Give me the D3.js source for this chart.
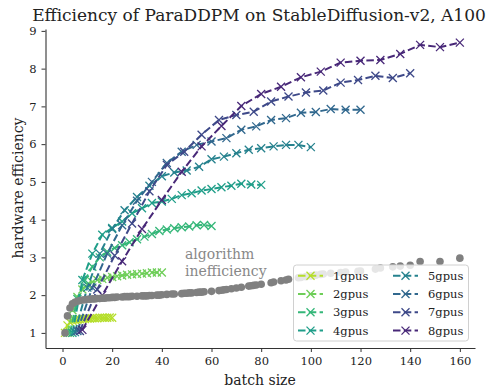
<!DOCTYPE html>
<html>
<head>
<meta charset="utf-8">
<script src="https://cdn.jsdelivr.net/npm/d3@7"></script>
<style>
  body { margin: 0; background: #fff; }
  text { font-family: "DejaVu Serif", serif; }
</style>
</head>
<body>
<div id="chart"></div>
<script>
// gpu counts and denoising steps per run (batch size = gpus * step)
const gpus = [1, 2, 3, 4, 5, 6, 7, 8];
const steps = [1, 2, 3, 4, 5, 6, 7, 8, 9, 10, 11, 12, 13, 14, 15, 16, 17, 18, 19, 20];

// hardware efficiency per gpu count, one value per step
const eff1 = [1.00, 1.20, 1.28, 1.32, 1.34, 1.35, 1.36, 1.37, 1.37, 1.38, 1.38, 1.39, 1.39, 1.39, 1.40, 1.40, 1.40, 1.40, 1.41, 1.40];
const eff2 = [1.00, 1.60, 1.95, 2.15, 2.28, 2.35, 2.40, 2.43, 2.46, 2.48, 2.50, 2.52, 2.54, 2.55, 2.56, 2.57, 2.58, 2.60, 2.60, 2.60];
const eff3 = [1.00, 1.90, 2.40, 2.75, 3.00, 3.15, 3.25, 3.32, 3.40, 3.48, 3.55, 3.62, 3.70, 3.74, 3.77, 3.80, 3.82, 3.85, 3.86, 3.83];
const eff4 = [1.00, 2.40, 3.10, 3.60, 3.78, 3.95, 4.17, 4.30, 4.44, 4.48, 4.55, 4.65, 4.70, 4.77, 4.81, 4.86, 4.90, 4.95, 4.93, 4.92];
const eff5 = [1.02, 2.20, 3.10, 3.75, 4.25, 4.60, 4.90, 5.15, 5.25, 5.30, 5.40, 5.60, 5.67, 5.76, 5.85, 5.89, 5.94, 5.98, 5.98, 5.92];
const eff6 = [1.05, 2.20, 3.10, 3.85, 4.50, 5.00, 5.50, 5.80, 5.98, 6.07, 6.16, 6.38, 6.47, 6.64, 6.69, 6.83, 6.85, 6.93, 6.91, 6.91];
const eff7 = [1.05, 2.15, 3.05, 3.90, 4.75, 5.45, 5.80, 6.25, 6.64, 6.77, 6.86, 7.13, 7.26, 7.37, 7.42, 7.63, 7.70, 7.81, 7.75, 7.88];
const eff8 = [1.08, 2.00, 2.90, 3.75, 4.52, 5.27, 5.94, 6.48, 7.01, 7.33, 7.52, 7.77, 7.92, 8.16, 8.21, 8.23, 8.39, 8.63, 8.57, 8.69];

// algorithm inefficiency (grey dots)
const algoBatch = [1, 2, 3, 4, 5, 6, 7, 8, 9, 10, 11, 12, 13, 14, 15, 16, 17, 18, 19, 20,
  21, 22, 24, 25, 26, 27, 28, 30, 32, 33, 34, 35, 36, 38, 39, 40, 42, 44, 45, 48, 49, 50,
  51, 52, 54, 55, 56, 57, 60, 63, 64, 65, 66, 68, 70, 72, 75, 76, 77, 78, 80, 84, 85, 88,
  90, 91, 95, 96, 98, 100, 102, 104, 105, 108, 112, 114, 119, 120, 126, 128, 133, 136,
  140, 144, 152, 160];
const algoEff = [1.00, 1.45, 1.66, 1.77, 1.81, 1.84, 1.86, 1.87, 1.88, 1.89, 1.89, 1.90, 1.90, 1.91, 1.91, 1.92, 1.92, 1.93, 1.93, 1.94,
  1.94, 1.95, 1.95, 1.96, 1.96, 1.96, 1.97, 1.97, 1.98, 1.98, 1.98, 1.99, 1.99, 2.00, 2.00, 2.01, 2.02, 2.03, 2.03, 2.04, 2.05, 2.05,
  2.06, 2.06, 2.07, 2.08, 2.08, 2.09, 2.10, 2.12, 2.13, 2.14, 2.15, 2.17, 2.19, 2.21, 2.24, 2.25, 2.26, 2.27, 2.29, 2.33, 2.35, 2.38,
  2.40, 2.42, 2.46, 2.47, 2.49, 2.51, 2.53, 2.55, 2.56, 2.58, 2.60, 2.61, 2.63, 2.64, 2.69, 2.72, 2.75, 2.77,
  2.79, 2.89, 2.89, 2.98];

const xTicks = [0, 20, 40, 60, 80, 100, 120, 140, 160];
const yTicks = [1, 2, 3, 4, 5, 6, 7, 8, 9];

const effByGpu = [eff1, eff2, eff3, eff4, eff5, eff6, eff7, eff8];
const series = gpus.map((g, k) => ({
  name: g + "gpus",
  color: d3.interpolateViridis((9 - g) / 9),
  points: steps.map((s, i) => ({ batch: g * s, eff: effByGpu[k][i] }))
}));
const algo = algoBatch.map((b, i) => ({ batch: b, eff: algoEff[i] }));

const W = 492, H = 392;
const svg = d3.select("#chart").append("svg")
  .attr("width", W)
  .attr("height", H);

const x = d3.scaleLinear().domain([-6.85, 166.1]).range([45.5, 475]);
const y = d3.scaleLinear().domain([0.6, 9.05]).range([348, 29]);

// axes
const xAxis = svg.append("g")
  .attr("transform", `translate(0,${348})`)
  .call(d3.axisBottom(x).tickValues(xTicks).tickSize(4).tickPadding(5).tickSizeOuter(0));
const yAxis = svg.append("g")
  .attr("transform", `translate(${45.5},0)`)
  .call(d3.axisLeft(y).tickValues(yTicks).tickSize(4).tickPadding(5).tickSizeOuter(0));

[xAxis, yAxis].forEach(a => {
  a.selectAll("text")
    .style("font-family", "DejaVu Serif")
    .style("font-size", "11.5px")
    .attr("fill", "#222");
  a.selectAll("line").attr("stroke", "#333");
  a.select(".domain").attr("stroke", "#333").attr("stroke-width", 1.1);
});

// lines with x markers
const line = d3.line().x(d => x(d.batch)).y(d => y(d.eff));
const plot = svg.append("g");

function cross(sel, size) {
  sel.attr("d", `M${-size},${-size}L${size},${size}M${-size},${size}L${size},${-size}`);
}

series.forEach(s => {
  plot.append("path")
    .datum(s.points)
    .attr("fill", "none")
    .attr("stroke", s.color)
    .attr("stroke-width", 2)
    .attr("stroke-dasharray", "7.5,3.3")
    .attr("d", line);
  plot.selectAll(null)
    .data(s.points)
    .enter()
    .append("path")
    .attr("transform", d => `translate(${x(d.batch)},${y(d.eff)})`)
    .attr("stroke", s.color)
    .attr("stroke-width", 1.3)
    .call(cross, 4);
});

// grey dots for algorithm inefficiency
plot.selectAll(".algo")
  .data(algo)
  .enter()
  .append("circle")
  .attr("class", "algo")
  .attr("cx", d => x(d.batch))
  .attr("cy", d => y(d.eff))
  .attr("r", 3.8)
  .attr("fill", "#808080");

// annotation
svg.append("text")
  .attr("x", 185)
  .attr("y", 259)
  .attr("fill", "#888")
  .style("font-size", "14px")
  .selectAll("tspan")
  .data(["algorithm", "inefficiency"])
  .enter()
  .append("tspan")
  .attr("x", 185)
  .attr("dy", (d, i) => i === 0 ? 0 : 16.5)
  .text(d => d);

// legend
const legend = svg.append("g");
legend.append("rect")
  .attr("x", 293.5)
  .attr("y", 265)
  .attr("width", 175)
  .attr("height", 76)
  .attr("rx", 3)
  .attr("fill", "#fff")
  .attr("fill-opacity", 0.8)
  .attr("stroke", "#d0d0d0")
  .attr("stroke-width", 1);

series.forEach((s, i) => {
  const col = Math.floor(i / 4), row = i % 4;
  const lx = 298 + col * 95, ly = 275.7 + row * 18.3;
  const item = legend.append("g").attr("transform", `translate(${lx},${ly})`);
  item.append("line")
    .attr("x1", 0).attr("x2", 25)
    .attr("stroke", s.color)
    .attr("stroke-width", 2)
    .attr("stroke-dasharray", "7.5,3.3");
  item.append("path")
    .attr("transform", "translate(12.5,0)")
    .attr("stroke", s.color)
    .attr("stroke-width", 1.3)
    .call(cross, 4);
  item.append("text")
    .attr("x", 35)
    .attr("dy", "0.35em")
    .style("font-size", "11.5px")
    .attr("fill", "#222")
    .text(s.name);
});

// labels and title
svg.append("text")
  .attr("x", 260)
  .attr("y", 385)
  .attr("text-anchor", "middle")
  .style("font-size", "14px")
  .attr("fill", "#222")
  .text("batch size");

svg.append("text")
  .attr("transform", "translate(18,188) rotate(-90)")
  .attr("text-anchor", "middle")
  .attr("dy", "0.35em")
  .style("font-size", "14px")
  .attr("fill", "#222")
  .text("hardware efficiency");

svg.append("text")
  .attr("x", 259)
  .attr("y", 21)
  .attr("text-anchor", "middle")
  .style("font-size", "17px")
  .attr("fill", "#222")
  .text("Efficiency of ParaDDPM on StableDiffusion-v2, A100");
</script>
</body>
</html>
